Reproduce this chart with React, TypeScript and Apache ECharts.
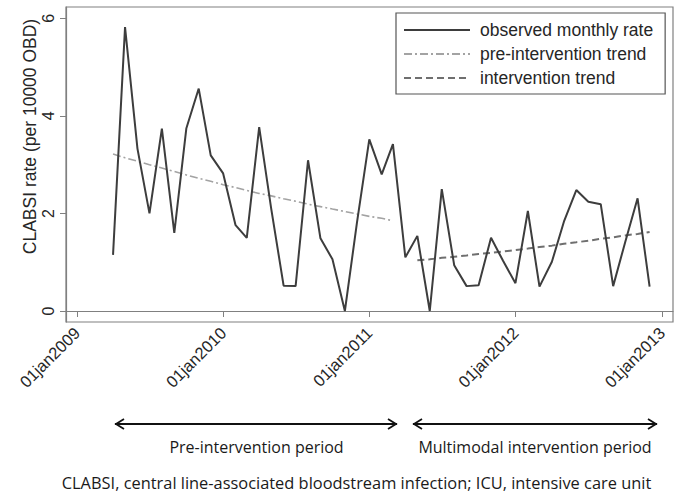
import React, { useEffect, useRef } from "react";
import * as echarts from "echarts";

// Monthly observation dates (YYYY-MM)
const months: string[] = [
  "2009-04", "2009-05", "2009-06", "2009-07", "2009-08", "2009-09", "2009-10", "2009-11", "2009-12",
  "2010-01", "2010-02", "2010-03", "2010-04", "2010-05", "2010-06", "2010-07", "2010-08", "2010-09",
  "2010-10", "2010-11", "2010-12", "2011-01", "2011-02", "2011-03", "2011-04", "2011-05", "2011-06",
  "2011-07", "2011-08", "2011-09", "2011-10", "2011-11", "2011-12", "2012-01", "2012-02", "2012-03",
  "2012-04", "2012-05", "2012-06", "2012-07", "2012-08", "2012-09", "2012-10", "2012-11", "2012-12",
];

// Observed monthly CLABSI rate (per 10000 OBD)
const observed: number[] = [
  1.15, 5.82, 3.33, 2.0, 3.74, 1.6, 3.74, 4.56, 3.19,
  2.82, 1.76, 1.5, 3.77, 2.1, 0.52, 0.51, 3.09, 1.49,
  1.06, 0.0, 1.8, 3.52, 2.8, 3.42, 1.1, 1.54, 0.0,
  2.5, 0.94, 0.51, 0.53, 1.5, 1.03, 0.57, 2.05, 0.5,
  1.01, 1.83, 2.48, 2.24, 2.19, 0.51, 1.41, 2.31, 0.5,
];

// Pre-intervention trend: Apr 2009 .. Mar 2011
const preTrendMonths: string[] = months.slice(0, 24);
const preTrend: number[] = [
  3.22, 3.14, 3.07, 3.0, 2.93, 2.86, 2.79, 2.72, 2.66, 2.59, 2.53, 2.47,
  2.41, 2.36, 2.3, 2.25, 2.19, 2.14, 2.09, 2.04, 1.99, 1.94, 1.9, 1.85,
];

// Intervention trend: May 2011 .. Dec 2012
const intTrendMonths: string[] = months.slice(25);
const intTrend: number[] = [
  1.04, 1.06, 1.09, 1.11, 1.14, 1.17, 1.19, 1.22, 1.25, 1.28,
  1.31, 1.34, 1.38, 1.41, 1.44, 1.48, 1.51, 1.55, 1.58, 1.62,
];

const xTickDates: string[] = ["2009-01", "2010-01", "2011-01", "2012-01", "2013-01"];
const yTicks: number[] = [0, 2, 4, 6];

const seriesNames: string[] = ["observed monthly rate", "pre-intervention trend", "intervention trend"];
const periodLabels: string[] = ["Pre-intervention period", "Multimodal intervention period"];
const yTitle = "CLABSI rate (per 10000 OBD)";
const caption = "CLABSI, central line-associated bloodstream infection; ICU, intensive care unit";

const DAY = 86400000;
const ts = (m: string) => {
  const [y, mo] = m.split("-").map(Number);
  return Date.UTC(y, mo - 1, 1);
};

export default function App() {
  const ref = useRef<HTMLDivElement>(null);
  useEffect(() => {
    if (!ref.current) return;
    const chart = echarts.init(ref.current, null, { renderer: "svg" });
    const axisFont = "'Liberation Sans', Arial, sans-serif";
    const capFont = "'Open Sans', 'Noto Sans', sans-serif";
    const axisColor = "#808080";
    const textColor = "#262626";
    const pad = 27.45 * DAY;
    const arrowY = 424;
    const arrow = (x1: number, x2: number) => [
      { type: "line", shape: { x1, y1: arrowY, x2, y2: arrowY }, style: { stroke: "#111", lineWidth: 1.8 } },
      { type: "polyline", shape: { points: [[x1 + 9, arrowY - 5], [x1 + 1, arrowY], [x1 + 9, arrowY + 5]] }, style: { stroke: "#111", lineWidth: 1.8, fill: "none" } },
      { type: "polyline", shape: { points: [[x2 - 9, arrowY - 5], [x2 - 1, arrowY], [x2 - 9, arrowY + 5]] }, style: { stroke: "#111", lineWidth: 1.8, fill: "none" } },
    ];
    chart.setOption({
      animation: false,
      backgroundColor: "#ffffff",
      grid: {
        left: 66, right: 7, top: 7, bottom: 171,
        show: true, borderColor: axisColor, borderWidth: 1.2,
        containLabel: false, outerBoundsMode: "none",
      },
      xAxis: {
        type: "value",
        min: ts(xTickDates[0]) - pad,
        max: ts(xTickDates[xTickDates.length - 1]) + pad,
        splitLine: { show: false },
        axisLine: { show: true, lineStyle: { color: axisColor, width: 1.2 } },
        axisTick: { show: true, length: 6, lineStyle: { color: axisColor }, customValues: xTickDates.map(ts) },
        axisLabel: {
          customValues: xTickDates.map(ts),
          rotate: 45,
          margin: 8,
          fontFamily: axisFont,
          fontSize: 16.5,
          color: textColor,
          formatter: (v: number) => "01jan" + new Date(v).getUTCFullYear(),
        },
      },
      yAxis: {
        type: "value",
        min: -0.2255,
        max: 6.232,
        splitLine: { show: false },
        axisLine: { show: true, lineStyle: { color: axisColor, width: 1.2 } },
        axisTick: { show: true, length: 6, lineStyle: { color: axisColor }, customValues: yTicks },
        axisLabel: {
          customValues: yTicks,
          rotate: 90,
          margin: 10,
          fontFamily: axisFont,
          fontSize: 16,
          color: textColor,
        },
      },
      legend: {
        orient: "vertical",
        left: 396,
        top: 13,
        padding: [7, 12, 6, 7],
        itemGap: 4,
        itemWidth: 66,
        itemHeight: 14,
        borderColor: "#555",
        borderWidth: 1.2,
        backgroundColor: "#fff",
        itemStyle: { opacity: 0 },
        textStyle: { fontFamily: axisFont, fontSize: 17.5, color: textColor, lineHeight: 20, padding: [0, 0, 0, 5] },
        data: seriesNames,
      },
      series: [
        {
          name: seriesNames[0],
          type: "line",
          symbol: "none",
          data: months.map((m, i) => [ts(m), observed[i]]),
          lineStyle: { color: "#3d3d3d", width: 2 },
          itemStyle: { color: "#3d3d3d" },
          z: 3,
        },
        {
          name: seriesNames[1],
          type: "line",
          symbol: "none",
          data: preTrendMonths.map((m, i) => [ts(m), preTrend[i]]),
          lineStyle: { color: "#a3a3a3", width: 1.6, type: [8, 3, 2, 3] },
          itemStyle: { color: "#a3a3a3" },
          z: 2,
        },
        {
          name: seriesNames[2],
          type: "line",
          symbol: "none",
          data: intTrendMonths.map((m, i) => [ts(m), intTrend[i]]),
          lineStyle: { color: "#6f6f6f", width: 2, type: [7, 4] },
          itemStyle: { color: "#6f6f6f" },
          z: 2,
        },
      ],
      graphic: [
        {
          type: "text",
          x: 30, y: 136.5, rotation: Math.PI / 2,
          style: { text: yTitle, fontFamily: axisFont, fontSize: 17.5, fill: textColor, align: "center", verticalAlign: "middle" },
        },
        ...arrow(115, 397),
        ...arrow(413, 657),
        {
          type: "text", x: 256.5, y: 446.5,
          style: { text: periodLabels[0], fontFamily: capFont, fontSize: 16, fill: "#1a1a1a", align: "center", verticalAlign: "middle" },
        },
        {
          type: "text", x: 535, y: 446.5,
          style: { text: periodLabels[1], fontFamily: capFont, fontSize: 16, fill: "#1a1a1a", align: "center", verticalAlign: "middle" },
        },
        {
          type: "text", x: 356.5, y: 482.5,
          style: { text: caption, fontFamily: capFont, fontSize: 16.4, fill: "#1a1a1a", align: "center", verticalAlign: "middle" },
        },
      ],
    });
    return () => chart.dispose();
  }, []);
  return <div ref={ref} style={{ position: "fixed", left: 0, top: 0, width: 680, height: 493 }} />;
}
